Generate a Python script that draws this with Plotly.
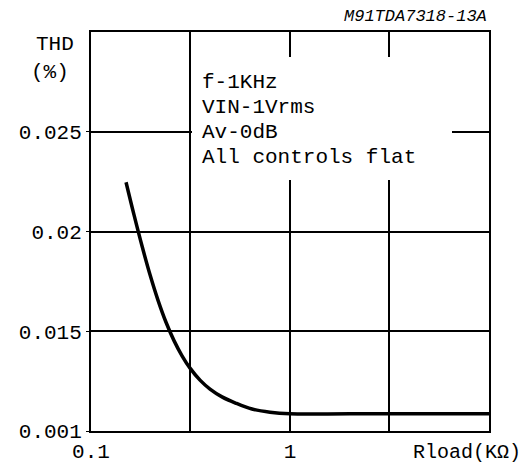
import plotly.graph_objects as go

# Data
rload_kohm = [0.150, 0.1645, 0.1805, 0.198, 0.2172, 0.2382, 0.2613, 0.2867, 0.3145, 0.353,
              0.3963, 0.4553, 0.5354, 0.6442, 0.7934, 1.0, 2.0, 5.0, 10.0]
thd_pct = [0.02247, 0.02083, 0.01927, 0.01783, 0.01655, 0.01545, 0.01453, 0.01377, 0.01315, 0.01255,
           0.0121, 0.01171, 0.01139, 0.0111, 0.01094, 0.01086, 0.01086, 0.01086, 0.01086]

x_grid = [0.1, 0.3162, 1, 3.162, 10]
x_ticktext = ["0.1", "", "1", "", ""]
y_ticks = [0.01, 0.015, 0.02, 0.025]
y_ticktext = ["0.001", "0.015", "0.02", "0.025"]
note_lines = ["f-1KHz", "VIN-1Vrms", "Av-0dB", "All controls flat"]

FONT = "Liberation Mono"
fig = go.Figure()
fig.add_trace(go.Scatter(x=rload_kohm, y=thd_pct, mode="lines",
                         line=dict(color="black", width=3.5, shape="spline", smoothing=1.0),
                         showlegend=False, hoverinfo="skip"))

fig.update_layout(
    width=525, height=466,
    margin=dict(l=91, r=36, t=32, b=35, autoexpand=False),
    paper_bgcolor="white", plot_bgcolor="white",
    font=dict(family=FONT, size=21, color="black"),
    xaxis=dict(type="log", range=[-1, 1], tickvals=x_grid, ticktext=x_ticktext,
               showgrid=True, gridcolor="black", gridwidth=2, automargin=False,
               showline=True, linecolor="black", linewidth=2, mirror=True,
               ticks="", zeroline=False, tickfont=dict(size=21)),
    yaxis=dict(range=[0.01, 0.03], tickvals=y_ticks, ticktext=y_ticktext,
               showgrid=True, gridcolor="black", gridwidth=2, automargin=False,
               showline=True, linecolor="black", linewidth=2, mirror=True,
               ticks="outside", ticklen=3, tickwidth=1, tickcolor="black",
               zeroline=False, tickfont=dict(size=21)),
)

# white box behind the note text (hides gridlines)
fig.add_shape(type="rect", xref="paper", yref="paper",
              x0=(192 - 91) / 398, x1=(452 - 91) / 398,
              y0=(431 - 180) / 399, y1=(431 - 57) / 399,
              fillcolor="white", line=dict(width=0), layer="above")

for i, t in enumerate(note_lines):
    yc = 82 + i * 25
    fig.add_annotation(text=t, xref="paper", yref="paper",
                       x=(200 - 91) / 398, y=(431 - yc) / 399,
                       xanchor="left", yanchor="middle", showarrow=False,
                       font=dict(family=FONT, size=21, color="black"))

fig.add_annotation(text="THD", xref="paper", yref="paper",
                   x=(55 - 91) / 398, y=(431 - 44) / 399,
                   xanchor="center", yanchor="middle", showarrow=False,
                   font=dict(family=FONT, size=21))
fig.add_annotation(text="(%)", xref="paper", yref="paper",
                   x=(50 - 91) / 398, y=(431 - 72) / 399,
                   xanchor="center", yanchor="middle", showarrow=False,
                   font=dict(family=FONT, size=21))
fig.add_annotation(text="Rload(KΩ)", xref="paper", yref="paper",
                   x=(523 - 91) / 398, y=(431 - 452) / 399,
                   xanchor="right", yanchor="middle", showarrow=False,
                   font=dict(family=FONT, size=20))
fig.add_annotation(text="M91TDA7318-13A", xref="paper", yref="paper",
                   x=(489 - 91) / 398, y=(431 - 17) / 399,
                   xanchor="right", yanchor="middle", showarrow=False,
                   font=dict(family=FONT, size=17, style="italic"))

fig.write_html("out.html", config={"displayModeBar": False},
               post_script="document.body.style.margin='0';")
